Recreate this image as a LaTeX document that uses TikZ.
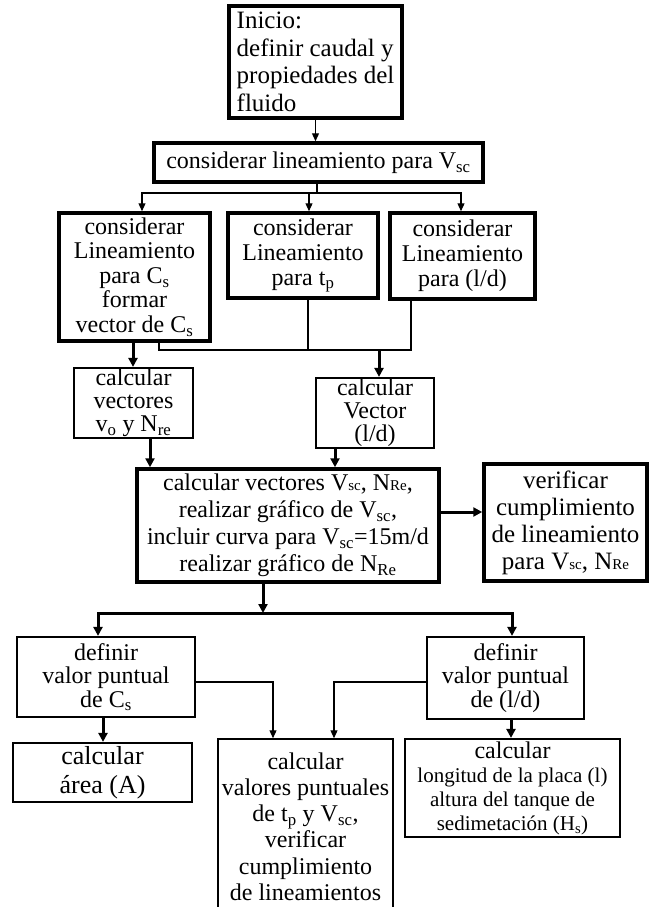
\documentclass[tikz,border=0pt]{standalone}
\usepackage{fontspec}
\setmainfont{Liberation Serif}
\usetikzlibrary{arrows.meta, calc}
\newcommand{\fs}[2]{\fontsize{#1}{#2}\selectfont}
\newcommand{\lowtxt}[1]{{\fontsize{15}{15}\selectfont #1}}
\tikzset{
	fatbox/.style={draw, line width=3.5pt, align=center, inner sep=0pt},
	midbox/.style={draw, line width=2.2pt, align=center, inner sep=0pt},
	slimbox/.style={draw, line width=1.5pt, align=center, inner sep=0pt},
	wire/.style={line width=1.2pt},
	link/.style={line width=1.2pt, -{Triangle[length=8pt,width=7pt]}},
	fatlink/.style={line width=3pt, -{Triangle[length=9pt,width=9pt]}}
}

\begin{document}
\begin{tikzpicture}[x=1pt,y=-1pt]
				\useasboundingbox (0,0) rectangle (652,907);
				% boxes
				\node[fatbox, align=left, minimum width=173pt, minimum height=112pt, font=\fs{25}{27.5}] (inicio) at (315.5,62) {Inicio:\\definir caudal y\\propiedades del\\fluido};
				\node[fatbox, minimum width=329pt, minimum height=39pt, font=\fs{24}{27}] (lin) at (318.5,162.5) {considerar lineamiento para V\textsubscript{sc}};
				\node[fatbox, minimum width=151pt, minimum height=128pt, font=\fs{24}{24.5}] (cs) at (134.5,277) {considerar\\Lineamiento\\para C\textsubscript{s}\\formar\\vector de C\textsubscript{s}};
				\node[fatbox, minimum width=150pt, minimum height=85pt, font=\fs{24}{25}] (tp) at (303,255.5) {considerar\\Lineamiento\\para t\textsubscript{p}};
				\node[fatbox, minimum width=145pt, minimum height=86pt, font=\fs{24}{25}] (ld) at (462.5,256) {considerar\\Lineamiento\\para (l/d)};
				\node[midbox, minimum width=119pt, minimum height=70pt, font=\fs{24}{23}] (vo) at (133.5,403) {calcular\\vectores\\v\textsubscript{o} y N\textsubscript{re}};
				\node[midbox, minimum width=118pt, minimum height=70pt, font=\fs{24}{23}] (vec) at (375,413) {calcular\\Vector\\(l/d)};
				\node[fatbox, minimum width=302pt, minimum height=113pt, font=\fs{24}{27}] (main) at (288,525.5) {calcular vectores V\lowtxt{sc}, N\lowtxt{Re},\\realizar gráfico de V\textsubscript{sc},\\incluir curva para V\textsubscript{sc}=15m/d\\realizar gráfico de N\textsubscript{Re}};
				\node[fatbox, minimum width=163pt, minimum height=117pt, font=\fs{25}{27}] (ver) at (565.5,522.5) {verificar\\cumplimiento\\de lineamiento\\para V\lowtxt{sc}, N\lowtxt{Re}};
				\node[midbox, minimum width=178pt, minimum height=80pt, font=\fs{24}{23.5}] (dcs) at (106,677) {definir\\valor puntual\\de C\textsubscript{s}};
				\node[midbox, minimum width=157pt, minimum height=82pt, font=\fs{24}{23.5}] (dld) at (505.5,678) {definir\\valor puntual\\de (l/d)};
				\node[midbox, minimum width=179pt, minimum height=59pt, font=\fs{26}{29}] (area) at (102.5,772.5) {calcular\\área (A)};
				\node[slimbox, minimum width=175pt, minimum height=175pt, font=\fs{24}{26.2}] (pun) at (305.5,826.5) {calcular\\valores puntuales\\de t\textsubscript{p} y V\textsubscript{sc},\\verificar\\cumplimiento\\de lineamientos};
				\node[midbox, minimum width=215pt, minimum height=98pt, font=\fs{21}{24}] (lng) at (512.5,788) {{\fs{24}{24}calcular}\\longitud de la placa (l)\\altura del tanque de\\sedimetación (H\textsubscript{s})};
				% connectors
				\coordinate (fork1) at (317,193);
				\coordinate (join) at (379,350);
				\coordinate (fork2) at (263,613);
				\draw[link] (inicio.south) -- (inicio.south |- lin.north);
				\draw[wire] (lin.south -| fork1) -- (fork1);
				\draw[link] (fork1) -| ([xshift=7.5pt]cs.north);
				\draw[link] (fork1) -| ([xshift=6pt]tp.north);
				\draw[link] (fork1) -| ([xshift=-1.5pt]ld.north);
				\draw[wire] ([xshift=24.5pt]cs.south) |- (join);
				\draw[wire] ([xshift=5pt]tp.south) |- (join);
				\draw[wire] ([xshift=-51.5pt]ld.south) |- (join);
				\draw[fatlink] (join) -- (join |- vec.north);
				\draw[fatlink] ([xshift=-1.5pt]cs.south) -- ([xshift=-1.5pt]cs.south |- vo.north);
				\draw[fatlink] ([xshift=16.5pt]vo.south) -- ([xshift=16.5pt]vo.south |- main.north);
				\draw[fatlink] ([xshift=-40pt]vec.south) -- ([xshift=-40pt]vec.south |- main.north);
				\draw[fatlink] ([yshift=13.5pt]main.east) -- ([yshift=13.5pt]main.east -| ver.west);
				\draw[fatlink] ([xshift=-25pt]main.south) -- (fork2);
				\draw[fatlink] (fork2) -| ([xshift=-8pt]dcs.north);
				\draw[fatlink] (fork2) -| ([xshift=6.5pt]dld.north);
				\draw[fatlink] ([xshift=-3pt]dcs.south) -- ([xshift=-3pt]dcs.south |- area.north);
				\draw[link] ([yshift=-5pt]dcs.east) -| ([xshift=-32.5pt]pun.north);
				\draw[link] ([yshift=-4pt]dld.west) -| ([xshift=28.5pt]pun.north);
				\draw[fatlink] ([xshift=5.5pt]dld.south) -- ([xshift=5.5pt]dld.south |- lng.north);
\end{tikzpicture}
\end{document}
